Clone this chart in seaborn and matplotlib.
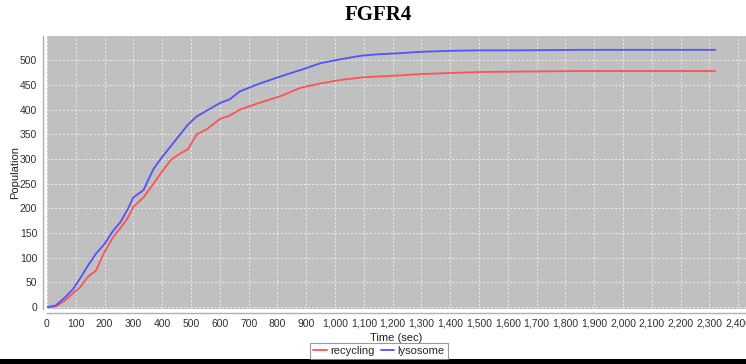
"""
Recycling vs lysosome population over time for FGFR4.
"""

import matplotlib
matplotlib.use('Agg')
import matplotlib.pyplot as plt
from matplotlib.ticker import FuncFormatter, MultipleLocator
import numpy as np
import pandas as pd
import seaborn as sns

time_sec = [0, 30, 60, 90, 115, 140, 170, 200, 230, 255, 280, 300, 335, 370,
            400, 430, 460, 490, 520, 555, 600, 635, 670, 740, 810, 880, 950,
            1020, 1090, 1150, 1220, 1300, 1400, 1500, 1650, 1850, 2320]
recycling = [0, 1, 12, 28, 40, 60, 74, 112, 142, 160, 180, 203, 222, 250,
             275, 298, 310, 320, 350, 360, 381, 388, 400, 414, 427, 444, 453,
             460, 465, 467, 469, 472, 474, 476, 477, 478, 478]
lysosome = [0, 3, 18, 36, 58, 82, 108, 128, 155, 172, 198, 222, 237, 280,
            304, 326, 348, 370, 386, 398, 413, 421, 437, 453, 467, 480, 494,
            502, 509, 512, 514, 517, 519, 520, 520, 521, 521]
series_names = ['recycling', 'lysosome']
series_colors = ['#ff5252', '#5252ff']

df = pd.concat([
    pd.DataFrame({'Time (sec)': time_sec, 'Population': recycling, 'series': 'recycling'}),
    pd.DataFrame({'Time (sec)': time_sec, 'Population': lysosome, 'series': 'lysosome'}),
])

sns.set_theme(style='white')
plt.rcParams['font.family'] = ['Liberation Sans Narrow', 'Liberation Sans', 'DejaVu Sans']

W, H = 746, 364
fig = plt.figure(figsize=(W / 100, H / 100), dpi=100)
ax = fig.add_axes([47 / W, (H - 309) / H, (W - 47) / W, (309 - 36) / H])
ax.set_facecolor('#c0c0c0')

sns.lineplot(data=df, x='Time (sec)', y='Population', hue='series',
             hue_order=series_names, palette=series_colors, linewidth=1.3,
             estimator=None, sort=False, ax=ax)

ax.set_xlim(0, 2427)
ax.set_ylim(-4, 549)
ax.xaxis.set_major_locator(MultipleLocator(100))
ax.yaxis.set_major_locator(MultipleLocator(50))
ax.xaxis.set_major_formatter(FuncFormatter(lambda v, p: f'{int(v):,}'))
ax.grid(True, color='white', linestyle=(0, (2, 2)), linewidth=0.7, alpha=0.7)
ax.tick_params(axis='both', labelsize=7.5, length=2, width=0.6, pad=2,
               colors='#303030')
ax.tick_params(axis='both', color='#a0a0a0')
ax.set_xlabel('Time (sec)', fontsize=8, labelpad=3, color='#202020')
ax.set_ylabel('Population', fontsize=8, color='#202020')
ax.yaxis.set_label_coords((20 - 47) / (W - 47), 0.5)

sns.despine(ax=ax, top=True, right=True, offset=3)
for side in ['left', 'bottom']:
    ax.spines[side].set_color('#b0b0b0')
    ax.spines[side].set_linewidth(1.0)

ax.get_legend().remove()
handles, labels = ax.get_legend_handles_labels()
leg = fig.legend(handles, labels, loc='center', bbox_to_anchor=(379 / W, (H - 351) / H),
                 ncol=2, fontsize=8, frameon=True, fancybox=False, handlelength=1.2,
                 handletextpad=0.3, columnspacing=0.6, borderpad=0.3, borderaxespad=0)
leg.get_frame().set_edgecolor('#808080')
leg.get_frame().set_linewidth(0.8)

fig.text(378 / W, (H - 15) / H, 'FGFR4', ha='center', va='center', fontsize=15,
         fontweight='bold', family='Liberation Serif', color='black')

fig.patches.append(plt.Rectangle((0, 0), 1, 5 / H, transform=fig.transFigure,
                                 facecolor='black', edgecolor='none'))

plt.savefig('out.png', dpi=100)
plt.close()
